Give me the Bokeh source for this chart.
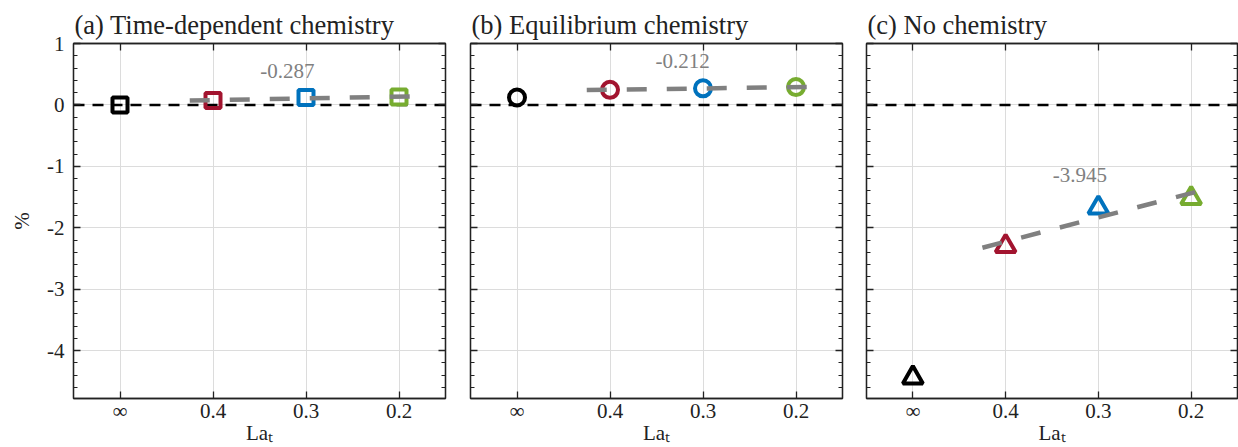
import numpy as np
from bokeh.plotting import figure
from bokeh.layouts import row
from bokeh.models import FixedTicker, LinearAxis, Range1d, Label, Span
from bokeh.embed import file_html
from bokeh.resources import INLINE

# Langmuir number categories (left to right) and their numeric values
la_labels = ["∞", "0.4", "0.3", "0.2"]
la_values = [np.inf, 0.4, 0.3, 0.2]

panel_titles = ["(a) Time-dependent chemistry", "(b) Equilibrium chemistry", "(c) No chemistry"]

# y tick values and their labels (plain hyphen for negatives)
y_ticks = [-4, -3, -2, -1, 0, 1]
y_tick_labels = ["-4", "-3", "-2", "-1", "0", "1"]

# Percentage change for each Langmuir number
change_time_dependent = [0.00, 0.07, 0.12, 0.13]
change_equilibrium = [0.12, 0.245, 0.27, 0.29]
change_no_chemistry = [-4.44, -2.30, -1.675, -1.52]

# Slopes of the linear fits (percent per unit La) over the finite La values
fit_slopes = [-0.287, -0.212, -3.945]

marker_colors = ["#000000", "#A2142F", "#0072BD", "#77AC30"]

SERIF = "Liberation Serif"
INK = "#222222"
Y_RANGE = (-4.78, 1.0)
MINOR_Y = list(np.round(np.arange(-4.6, 1.01, 0.2), 2))


def la_to_x(la):
    """Categorical x position: inf at 0, then evenly spaced La steps of 0.1."""
    la = np.asarray(la, dtype=float)
    return np.where(np.isinf(la), 0.0, 1.0 + (0.4 - la) / 0.1)


def style_axis(ax, ticker):
    ax.ticker = ticker
    ax.axis_line_color = INK
    ax.axis_line_width = 1.3
    ax.major_tick_in = 7
    ax.major_tick_out = 0
    ax.minor_tick_in = 4
    ax.minor_tick_out = 0
    ax.major_tick_line_color = INK
    ax.minor_tick_line_color = INK
    ax.major_tick_line_width = 1.3
    ax.major_label_text_font = SERIF
    ax.major_label_text_color = INK
    ax.major_label_text_font_size = "21px"


def blank_labels(ax, ticks):
    ax.major_label_overrides = {t: "" for t in ticks}
    ax.major_label_standoff = 0


def make_panel(idx, values, marker, width, border_left, border_right, slope_pos, first):
    p = figure(width=width, height=447,
               x_range=Range1d(-0.5, 3.5), y_range=Range1d(*Y_RANGE),
               output_backend="svg", toolbar_location=None,
               min_border_left=border_left, min_border_right=border_right,
               min_border_top=43, min_border_bottom=0,
               background_fill_color="white", border_fill_color="white",
               title=panel_titles[idx])
    p.outline_line_color = INK
    p.outline_line_width = 1.3

    p.title.text_font = SERIF
    p.title.text_font_size = "26.5px"
    p.title.text_font_style = "normal"
    p.title.text_color = INK
    p.title.align = "left"
    p.title.offset = 1
    p.title.standoff = 7

    xt = FixedTicker(ticks=[0, 1, 2, 3], minor_ticks=[])
    yt = FixedTicker(ticks=y_ticks, minor_ticks=MINOR_Y)

    # bottom axis
    bx = p.xaxis[0]
    style_axis(bx, xt)
    bx.major_label_overrides = {i: lab for i, lab in enumerate(la_labels)}
    bx.major_label_standoff = 0
    bx.axis_label = "Laₜ"
    bx.axis_label_text_font = SERIF
    bx.axis_label_text_font_style = "normal"
    bx.axis_label_text_font_size = "21px"
    bx.axis_label_text_color = INK
    bx.axis_label_standoff = -5

    # left axis
    ly = p.yaxis[0]
    style_axis(ly, yt)
    if first:
        ly.major_label_overrides = dict(zip(y_ticks, y_tick_labels))
        ly.major_label_standoff = 9
        ly.axis_label = "%"
        ly.axis_label_text_font = SERIF
        ly.axis_label_text_font_style = "normal"
        ly.axis_label_text_font_size = "21px"
        ly.axis_label_text_color = INK
        ly.axis_label_standoff = 10
    else:
        blank_labels(ly, y_ticks)

    # mirrored axes on top and right, ticks only
    top = LinearAxis()
    style_axis(top, FixedTicker(ticks=[0, 1, 2, 3], minor_ticks=[]))
    blank_labels(top, [0, 1, 2, 3])
    p.add_layout(top, "above")
    right = LinearAxis()
    style_axis(right, FixedTicker(ticks=y_ticks, minor_ticks=MINOR_Y))
    blank_labels(right, y_ticks)
    p.add_layout(right, "right")

    p.xgrid.ticker = xt
    p.ygrid.ticker = yt
    p.xgrid.grid_line_color = "#dcdcdc"
    p.ygrid.grid_line_color = "#dcdcdc"

    # zero reference line
    p.add_layout(Span(location=0, dimension="width", line_color="black",
                      line_width=2.5, line_dash="11 8", level="underlay"))

    xs = la_to_x(la_values)
    sizes = {"square": 15, "circle": 16, "triangle": 20}
    for k in range(len(values)):
        p.scatter(x=[xs[k]], y=[values[k]], marker=marker, size=sizes[marker],
                  line_color=marker_colors[k], fill_alpha=0, line_width=4)

    # linear fit through the finite-La points with the stated slope
    la_fin = np.array(la_values[1:], dtype=float)
    y_fin = np.array(values[1:], dtype=float)
    slope = fit_slopes[idx]
    intercept = y_fin.mean() - slope * la_fin.mean()
    la_line = np.array([0.425, 0.18])
    p.line(la_to_x(la_line), intercept + slope * la_line,
           line_color="#808080", line_width=4.5, line_dash="20 20")

    p.add_layout(Label(x=slope_pos[0], y=slope_pos[1], text=f"{slope:.3f}",
                       text_font=SERIF, text_font_size="21px", text_color="#808080",
                       text_align="center", text_baseline="middle"))
    return p


pa = make_panel(0, change_time_dependent, "square", 458, 73, 13, (1.8, 0.55), True)
pb = make_panel(1, change_equilibrium, "circle", 396, 12, 12, (1.78, 0.72), False)
pc = make_panel(2, change_no_chemistry, "triangle", 384, 12, 1, (1.8, -1.14), False)

layout = row(pa, pb, pc, spacing=0)
open("out.html", "w").write(file_html(layout, INLINE))
